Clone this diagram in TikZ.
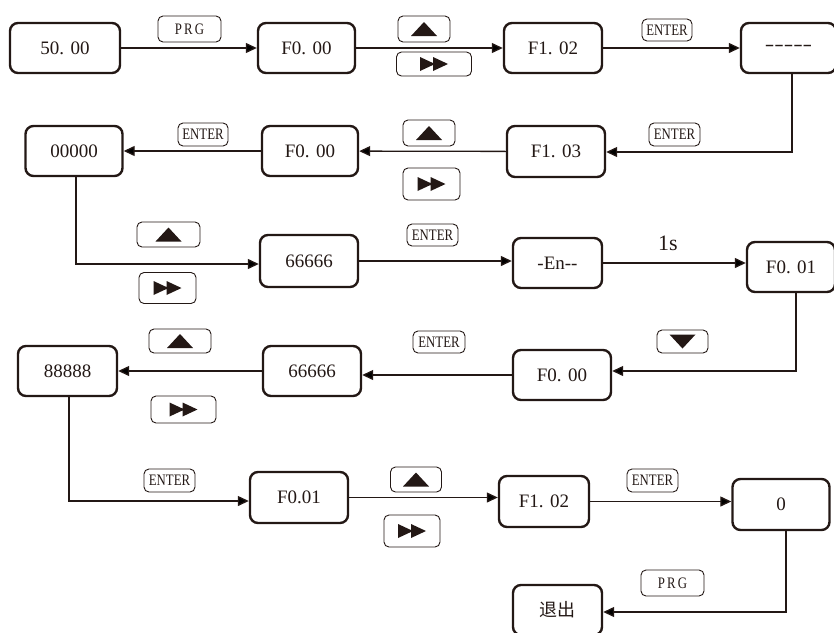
\documentclass[tikz,border=0pt]{standalone}
\usepackage{fontspec}
\usepackage{graphicx}
\setmainfont{Liberation Serif}
\newfontfamily\cjk{Noto Sans CJK SC}
\usetikzlibrary{arrows.meta}
\definecolor{ink}{HTML}{231815}
\newcommand\keytxt[1]{\scalebox{0.8}[1]{\fontsize{16}{16}\selectfont #1}}
\newcommand\upmark{\tikz[x=1pt,y=1pt,sharp corners]\fill[ink] (0,0)--(26,0)--(13,14)--cycle;}
\newcommand\downmark{\tikz[x=1pt,y=1pt,sharp corners]\fill[ink] (0,14)--(26,14)--(13,0)--cycle;}
\newcommand\ffmark{\tikz[x=1pt,y=1pt,sharp corners]\fill[ink] (0,0)--(15,7)--(0,14)--cycle (13,0)--(28,7)--(13,14)--cycle;}

\begin{document}
\begin{tikzpicture}[
  x=1pt, y=-1pt,
  every node/.style={text=ink},
  disp/.style  ={rectangle, draw=ink, line width=2.4pt, rounded corners=8pt,
                 minimum width=98pt, minimum height=50pt, inner sep=0pt,
                 font=\fontsize{19}{19}\selectfont},
  keycap/.style={rectangle, draw=ink, line width=0.9pt, rounded corners=5pt,
                 inner sep=0pt, minimum width=52pt, minimum height=25pt},
  link/.style  ={draw=ink, line width=1.3pt, -{Triangle[length=11pt,width=10pt]}},
  drop/.style  ={draw=ink, line width=2.4pt, line cap=rect}
]
\useasboundingbox (0,0) rectangle (834,632);

% row 1
\node[disp, minimum width=110pt] (b5000) at (65,48) {50. 00};
\node[disp, minimum width=97pt] (f000a) at (306.5,48) {F0. 00};
\node[disp] (f102a) at (553,48) {F1. 02};
\node[disp, minimum width=95pt] (dash) at (788.5,48) {\scalebox{1.5}[1]{{-}{-}{-}{-}{-}}};

% row 2
\node[disp, minimum height=51pt] (f103) at (556,151.5) {F1. 03};
\node[disp, minimum width=96pt] (f000b) at (310,151) {F0. 00};
\node[disp, minimum width=97pt] (z00000) at (74,151) {00000};

% row 3
\node[disp, minimum height=52pt] (s66a) at (309,261) {66666};
\node[disp, minimum width=89pt] (en) at (557.5,263) {{-}En{-}{-}};
\node[disp, minimum width=88pt] (f001a) at (791,267) {F0. 01};

% row 4
\node[disp] (f000c) at (562,375) {F0. 00};
\node[disp] (s66b) at (312,371) {66666};
\node[disp, minimum width=99pt] (e88888) at (67.5,371) {88888};

% row 5
\node[disp, minimum height=51pt] (f001b) at (299,497.5) {F0.01};
\node[disp, minimum width=90pt, minimum height=51pt] (f102b) at (544,501.5) {F1. 02};
\node[disp, minimum width=97pt, minimum height=51pt] (zero) at (781,504.5) {0};
\node[disp, minimum width=89pt, font=\fontsize{18}{18}\selectfont] (tuichu) at (557.5,610) {\cjk 退出};

% bends
\coordinate (c1) at (792,152);
\coordinate (c2) at (76,264);
\coordinate (c3) at (796,371);
\coordinate (c4) at (69,501);
\coordinate (c5) at (786,612);

% keys
\node[keycap, minimum width=63pt, minimum height=26pt] (prg1) at (189.5,29) {\keytxt{P\,R\,G}};
\node[keycap, minimum height=26pt] (up1) at (424,29) {\upmark};
\node[keycap, minimum width=75pt, minimum height=24pt] (ff1) at (434,64) {\ffmark};
\node[keycap, minimum width=50pt, minimum height=22pt] (ent1) at (667,30) {\keytxt{ENTER}};
\node[keycap, minimum width=51pt, minimum height=23pt] (ent2) at (674.5,134.5) {\keytxt{ENTER}};
\node[keycap, minimum height=26pt] (up2) at (429,133) {\upmark};
\node[keycap, minimum width=57pt, minimum height=32pt] (ff2) at (431.5,184) {\ffmark};
\node[keycap, minimum width=50pt, minimum height=23pt] (ent3) at (203,134.5) {\keytxt{ENTER}};
\node[keycap, minimum width=63pt] (up3) at (168.5,234.5) {\upmark};
\node[keycap, minimum width=57pt, minimum height=31pt] (ff3) at (167.5,288) {\ffmark};
\node[keycap, minimum width=51pt, minimum height=22pt] (ent4) at (432.5,235) {\keytxt{ENTER}};
\node[font=\fontsize{22}{22}\selectfont] (sec) at (668,243) {1s};
\node[keycap, minimum width=51pt, minimum height=23pt] (dn1) at (682.5,341.5) {\downmark};
\node[keycap, minimum width=52pt, minimum height=22pt] (ent5) at (439,342) {\keytxt{ENTER}};
\node[keycap, minimum width=62pt, minimum height=24pt] (up4) at (180,341) {\upmark};
\node[keycap, minimum width=65pt, minimum height=27pt] (ff4) at (183.5,409.5) {\ffmark};
\node[keycap, minimum width=51pt, minimum height=23pt] (ent6) at (169.5,480.5) {\keytxt{ENTER}};
\node[keycap, minimum width=51pt] (up5) at (416,479.5) {\upmark};
\node[keycap, minimum width=56pt, minimum height=32pt] (ff5) at (412,531) {\ffmark};
\node[keycap, minimum width=51pt, minimum height=23pt] (ent7) at (652.5,480.5) {\keytxt{ENTER}};
\node[keycap, minimum width=63pt, minimum height=26pt] (prg2) at (672.5,583) {\keytxt{P\,R\,G}};

% connectors
\draw[link] (b5000) -- (f000a);
\draw[link] (f000a) -- (f102a);
\draw[link] (f102a) -- (dash);
\draw[drop] (dash.south -| c1) -- (c1);
\draw[link] (c1) -- (c1 -| f103.east);
\draw[link] (f103) -- (f000b);
\draw[link] (f000b) -- (z00000);
\draw[drop] (z00000.south -| c2) -- (c2);
\draw[link] (c2) -- (c2 -| s66a.west);
\draw[link] (s66a.east) -- (s66a.east -| en.west);
\draw[link] (en.east) -- (en.east -| f001a.west);
\draw[drop] (f001a.south -| c3) -- (c3);
\draw[link] (c3) -- (c3 -| f000c.east);
\draw[link] (f000c.west) -- (f000c.west -| s66b.east);
\draw[link] (s66b) -- (e88888);
\draw[drop] (e88888.south -| c4) -- (c4);
\draw[link] (c4) -- (c4 -| f001b.west);
\draw[link] (f001b.east) -- (f001b.east -| f102b.west);
\draw[link] (f102b.east) -- (f102b.east -| zero.west);
\draw[drop] (zero.south -| c5) -- (c5);
\draw[link] (c5) -- (c5 -| tuichu.east);
\end{tikzpicture}
\end{document}
